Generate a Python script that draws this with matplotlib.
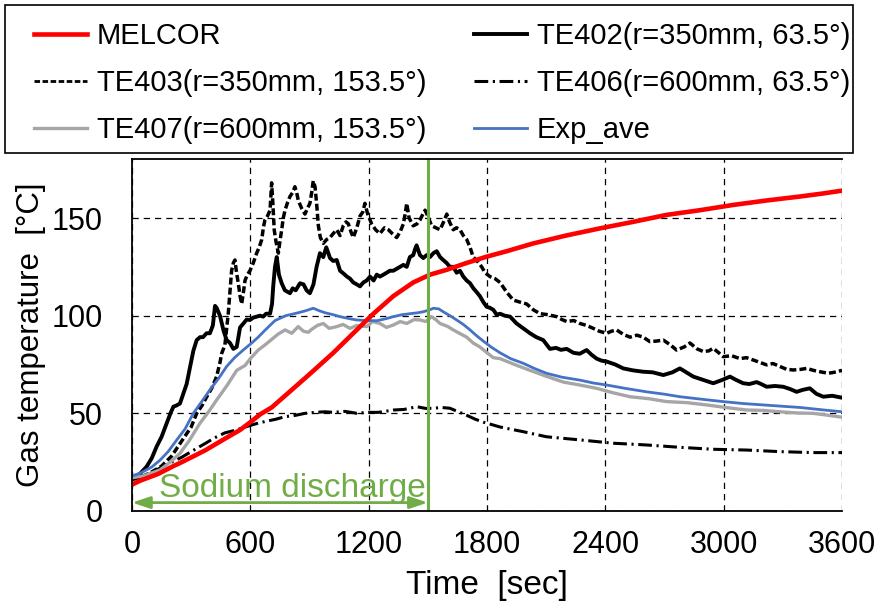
import matplotlib
matplotlib.use('Agg')
import matplotlib.pyplot as plt
from matplotlib.lines import Line2D
from matplotlib.patches import Rectangle

plt.rcParams['font.family'] = ['Liberation Sans', 'DejaVu Sans']

# (time [s], temperature [C])
melcor = [(0, 13.5), (41, 15.5), (133, 19), (210, 23), (252, 25), (370, 31), (471, 37),
          (548, 41.5), (607, 46), (650, 49.5), (708, 53), (810, 62), (911, 71), (1021, 81),
          (1122, 91), (1224, 101), (1325, 110), (1426, 117), (1511, 121), (1596, 123.5),
          (1697, 127), (1798, 130.2), (1900, 133), (2035, 137), (2200, 141), (2373, 144.7),
          (2540, 148), (2711, 151.6), (2880, 154), (3049, 156.7), (3220, 159), (3387, 161),
          (3500, 162.5), (3600, 164)]

te402 = [(0, 17), (40, 19), (74, 22.7), (100, 27), (125, 33), (150, 38), (176, 45), (195, 50),
         (210, 53.4), (225, 54), (243, 55), (260, 60), (277, 65), (295, 74), (311, 82),
         (328, 87.5), (345, 89), (360, 89), (378, 91), (395, 91), (410, 95), (421, 105),
         (429, 104), (446, 100), (465, 92), (480, 87.5), (497, 86), (514, 83), (531, 84),
         (548, 94), (565, 96), (581, 98), (598, 97.8), (615, 99), (632, 99.5), (650, 100),
         (665, 99.5), (680, 101), (700, 101), (710, 106), (716, 115), (725, 125), (734, 130),
         (745, 121), (759, 116.6), (775, 113), (801, 111.5), (815, 114), (830, 113),
         (852, 116.6), (870, 116), (885, 113), (902, 111.5), (920, 116), (936, 125),
         (953, 132), (970, 130), (985, 135), (1004, 129.5), (1020, 128), (1038, 128.5),
         (1055, 123), (1071, 121.7), (1090, 120), (1105, 119), (1122, 117), (1140, 116),
         (1156, 115), (1173, 117), (1190, 118), (1207, 120), (1225, 118), (1241, 121),
         (1257, 120), (1275, 121), (1291, 122), (1308, 123), (1325, 123), (1342, 124),
         (1359, 125), (1376, 126), (1393, 125), (1409, 130), (1426, 131), (1435, 134),
         (1443, 136), (1460, 131), (1477, 129.5), (1494, 131), (1511, 130), (1528, 132),
         (1545, 133), (1562, 130), (1578, 128.5), (1595, 127), (1612, 125), (1629, 125),
         (1646, 122), (1663, 123), (1680, 120), (1697, 118), (1714, 116.6), (1731, 114),
         (1748, 112), (1764, 110), (1781, 107), (1798, 104.6), (1815, 104), (1832, 103),
         (1849, 100.5), (1866, 101), (1890, 100), (1917, 99.5), (1950, 96), (1984, 93.5),
         (2018, 91), (2050, 89), (2085, 87.5), (2119, 83), (2150, 83.5), (2175, 82.5),
         (2204, 83), (2238, 81), (2270, 80.5), (2305, 82.4), (2330, 80), (2356, 78),
         (2380, 77), (2407, 76.5), (2450, 75), (2491, 73), (2540, 72), (2592, 71.3),
         (2640, 71), (2694, 69.6), (2740, 71), (2778, 73), (2810, 71), (2846, 68.8),
         (2900, 67), (2947, 65.4), (2990, 67), (3032, 68.8), (3065, 67), (3099, 65.4),
         (3130, 65), (3167, 66), (3190, 65), (3218, 63.6), (3260, 64), (3302, 63.6),
         (3335, 62.5), (3370, 61), (3400, 62), (3437, 62.8), (3470, 60), (3505, 58.5),
         (3550, 59), (3600, 58)]

te403 = [(0, 17), (60, 18), (100, 20), (150, 23), (200, 28), (260, 37), (300, 43), (328, 50),
         (355, 54), (379, 58.5), (405, 63), (429, 68.8), (446, 76), (455, 80.7), (471, 85),
         (488, 101), (497, 113), (505, 123), (514, 127), (522, 128.5), (530, 122),
         (539, 116.6), (548, 110), (556, 106), (565, 112), (573, 118), (585, 121), (598, 123),
         (615, 127), (632, 132), (645, 135), (658, 139), (666, 145), (674, 149), (687, 151),
         (700, 154), (708, 168), (714, 158), (721, 144), (730, 138), (742, 132), (750, 138),
         (759, 144), (767, 150), (776, 154), (789, 158), (801, 161), (814, 163), (826, 166),
         (835, 163), (843, 159), (860, 155), (877, 152), (890, 155), (902, 157.5), (911, 163),
         (919, 169), (928, 166), (936, 157.5), (945, 146), (955, 140), (970, 137), (987, 139),
         (1004, 140), (1020, 142), (1038, 144), (1055, 141), (1071, 146), (1085, 148),
         (1097, 147), (1110, 143), (1122, 140), (1140, 145), (1156, 151), (1170, 153),
         (1181, 157.5), (1195, 152), (1215, 147), (1235, 144), (1257, 142), (1280, 145),
         (1300, 144), (1320, 142), (1342, 140), (1360, 143), (1376, 147), (1385, 152),
         (1393, 157.5), (1405, 150), (1426, 146), (1445, 147), (1460, 149), (1475, 152),
         (1486, 154), (1500, 151), (1519, 146), (1540, 145), (1562, 144), (1580, 148),
         (1596, 152), (1610, 148), (1629, 144), (1646, 145), (1663, 144), (1680, 141),
         (1697, 139), (1714, 135), (1730, 130), (1750, 128), (1773, 125), (1790, 122),
         (1815, 120), (1840, 119), (1866, 117), (1900, 112), (1933, 108), (1965, 107),
         (2001, 106), (2035, 103), (2069, 101), (2110, 100.5), (2153, 99.5), (2180, 98),
         (2204, 97), (2240, 97.5), (2271, 96), (2305, 95), (2339, 93.5), (2370, 92),
         (2407, 91), (2430, 92), (2457, 92.7), (2490, 90.5), (2525, 89), (2560, 90),
         (2592, 89), (2626, 86.7), (2660, 87), (2694, 87.5), (2730, 85), (2761, 82.4),
         (2800, 84), (2829, 86), (2865, 83), (2897, 81.6), (2925, 82), (2947, 83.3),
         (2975, 81), (2998, 79), (3040, 79.5), (3083, 78), (3115, 78.5), (3150, 77.3),
         (3185, 76), (3218, 74.8), (3250, 75.5), (3285, 74), (3320, 72.5), (3353, 72.2),
         (3390, 72.5), (3421, 73), (3455, 72), (3488, 71.3), (3530, 70.5), (3560, 71),
         (3600, 72)]

te406 = [(0, 16), (60, 17.5), (133, 21.5), (200, 25), (252, 27.5), (310, 31), (370, 34.5),
         (420, 37.5), (471, 40), (530, 41.5), (590, 43.5), (640, 45), (683, 46), (730, 47),
         (776, 48.3), (830, 49), (877, 50), (930, 50.5), (979, 50.8), (1021, 50.5), (1080, 51),
         (1140, 50), (1190, 50.5), (1250, 50.5), (1325, 51.7), (1380, 52), (1443, 53.4),
         (1490, 52.5), (1528, 52.6), (1570, 53), (1612, 52.6), (1650, 51), (1697, 49),
         (1740, 47), (1781, 45.5), (1866, 43), (1984, 40.6), (2102, 38), (2271, 36.4),
         (2440, 34.7), (2610, 33.8), (2778, 32.6), (2947, 31.6), (3116, 31.2), (3285, 30.4),
         (3454, 29.9), (3600, 29.9)]

te407 = [(0, 17), (60, 18), (142, 21), (200, 25.5), (243, 29.5), (290, 36), (345, 45), (390, 51),
         (429, 56.8), (480, 64), (531, 72), (573, 74.5), (600, 78), (640, 82.4), (674, 85),
         (710, 88), (740, 90.5), (776, 92.7), (810, 91), (843, 94.4), (870, 92), (894, 91.5),
         (911, 93), (940, 95), (970, 96), (1000, 93.5), (1038, 94.4), (1070, 95.5), (1105, 93.5),
         (1140, 95), (1190, 94.4), (1220, 97), (1257, 96), (1290, 94), (1325, 95.2), (1360, 97),
         (1393, 96), (1430, 98), (1460, 97.8), (1490, 97), (1519, 99.5), (1540, 98), (1562, 96),
         (1600, 94.5), (1629, 92.7), (1660, 91), (1697, 89), (1730, 86), (1764, 84), (1800, 81),
         (1832, 78.5), (1866, 78), (1940, 75), (2018, 72), (2100, 69), (2187, 66), (2270, 64.5),
         (2356, 62.8), (2440, 60.5), (2525, 58.5), (2620, 57.5), (2711, 56), (2810, 55.5),
         (2914, 54.3), (3010, 53), (3116, 51.7), (3200, 51.5), (3285, 50.8), (3370, 50.2),
         (3454, 50), (3530, 49), (3600, 48)]

exp_ave = [(0, 18), (41, 19.3), (100, 22.5), (142, 26), (184, 30.5), (227, 36.4), (269, 42),
           (311, 50), (350, 55.5), (395, 62), (440, 68), (480, 74), (520, 78.5), (565, 82.5),
           (607, 86), (640, 89), (674, 92.5), (725, 97.5), (780, 100), (843, 101.5), (880, 102.5),
           (919, 103.8), (950, 102.5), (979, 101.5), (1020, 100.5), (1055, 99.5), (1100, 98.5),
           (1139, 97.8), (1190, 97.5), (1241, 97.4), (1290, 98.5), (1325, 99.5), (1370, 100.5),
           (1409, 101), (1450, 101.5), (1477, 102), (1510, 103), (1528, 103.8), (1555, 103.5),
           (1578, 102), (1612, 100), (1646, 97.8), (1680, 95.5), (1714, 92.7), (1750, 89.5),
           (1781, 87), (1820, 84), (1866, 81), (1920, 78), (1984, 75.6), (2040, 73), (2102, 70.5),
           (2180, 68.5), (2271, 67), (2340, 65.5), (2407, 64.5), (2500, 62.8), (2610, 61),
           (2700, 59.8), (2778, 58.5), (2890, 57.2), (2998, 56), (3100, 55), (3201, 54.3),
           (3300, 53.6), (3387, 53), (3500, 51.8), (3600, 50.8)]

discharge_end = 1500
x_ticks = [0, 600, 1200, 1800, 2400, 3000, 3600]
y_ticks = [0, 50, 100, 150]

GREEN = '#70AD47'
BLUE = '#4472C4'
GREY = '#A6A6A6'


def unzip(pairs):
    return [p[0] for p in pairs], [p[1] for p in pairs]


fig = plt.figure(figsize=(8.8, 6.01), dpi=100)
ax = fig.add_axes([132 / 880, 1 - 511 / 601, 710 / 880, 351.6 / 601])

style_403 = dict(color='black', lw=2.5, dashes=(2.0, 0.9))
style_406 = dict(color='black', lw=2.2, dashes=(4.5, 1.5, 0.7, 1.5))

ax.plot(*unzip(te406), **style_406)
ax.plot(*unzip(te403), **style_403)
ax.plot(*unzip(te402), color='black', lw=2.8)
ax.plot(*unzip(te407), color=GREY, lw=2.4)
ax.plot(*unzip(exp_ave), color=BLUE, lw=2.0)
ax.plot(*unzip(melcor), color='red', lw=3.3)
ax.axvline(discharge_end, color=GREEN, lw=2.2)

ax.annotate('', xy=(0, 4.3), xytext=(discharge_end, 4.3), annotation_clip=False,
            arrowprops=dict(arrowstyle='<|-|>,head_length=0.9,head_width=0.3',
                            color=GREEN, lw=2, shrinkA=0, shrinkB=0, mutation_scale=12))
ax.text(811, 7, 'Sodium discharge', color=GREEN, fontsize=24, ha='center', va='baseline')

ax.set_xlim(0, 3600)
ax.set_ylim(0, 180)
ax.set_xticks(x_ticks)
ax.set_yticks(y_ticks)
ax.tick_params(length=0, labelsize=22)
ax.tick_params(axis='y', pad=21)
ax.tick_params(axis='x', pad=14)
ax.grid(True, color='black', lw=0.9, linestyle=(0, (5, 4)))
ax.set_axisbelow(True)
ax.spines['right'].set_visible(False)
for s in ['left', 'bottom', 'top']:
    ax.spines[s].set_linewidth(1.3)

ax.set_xlabel('Time  [sec]', fontsize=24)
ax.xaxis.set_label_coords(0.5, -0.168)
ax.set_ylabel('Gas temperature  [°C]', fontsize=22.5)
ax.yaxis.set_label_coords(-0.121, 0.5)

# legend: two columns above the plot inside one box
h_melcor = Line2D([], [], color='red', lw=3.3)
h_402 = Line2D([], [], color='black', lw=2.8)
h_403 = Line2D([], [], color='black', lw=2.0, dashes=(2.0, 0.9))
h_406 = Line2D([], [], **style_406)
h_407 = Line2D([], [], color=GREY, lw=2.4)
h_exp = Line2D([], [], color=BLUE, lw=2.0)

leg_kw = dict(loc='upper left', frameon=False, fontsize=21, handlelength=1.8,
              handletextpad=0.36, labelspacing=0.66, borderpad=0, borderaxespad=0)
fig.legend([h_melcor, h_403, h_407],
           ['MELCOR', 'TE403(r=350mm, 153.5°)', 'TE407(r=600mm, 153.5°)'],
           bbox_to_anchor=(34 / 880, 1 - 22 / 601), **leg_kw)
fig.legend([h_402, h_406, h_exp],
           ['TE402(r=350mm, 63.5°)', 'TE406(r=600mm, 63.5°)', 'Exp_ave'],
           bbox_to_anchor=(474 / 880, 1 - 22 / 601), **leg_kw)
fig.add_artist(Rectangle((5 / 880, 1 - 153 / 601), 848 / 880, 148 / 601,
                         transform=fig.transFigure, fill=False, ec='black', lw=1.2))

fig.savefig('out.png', dpi=100)
